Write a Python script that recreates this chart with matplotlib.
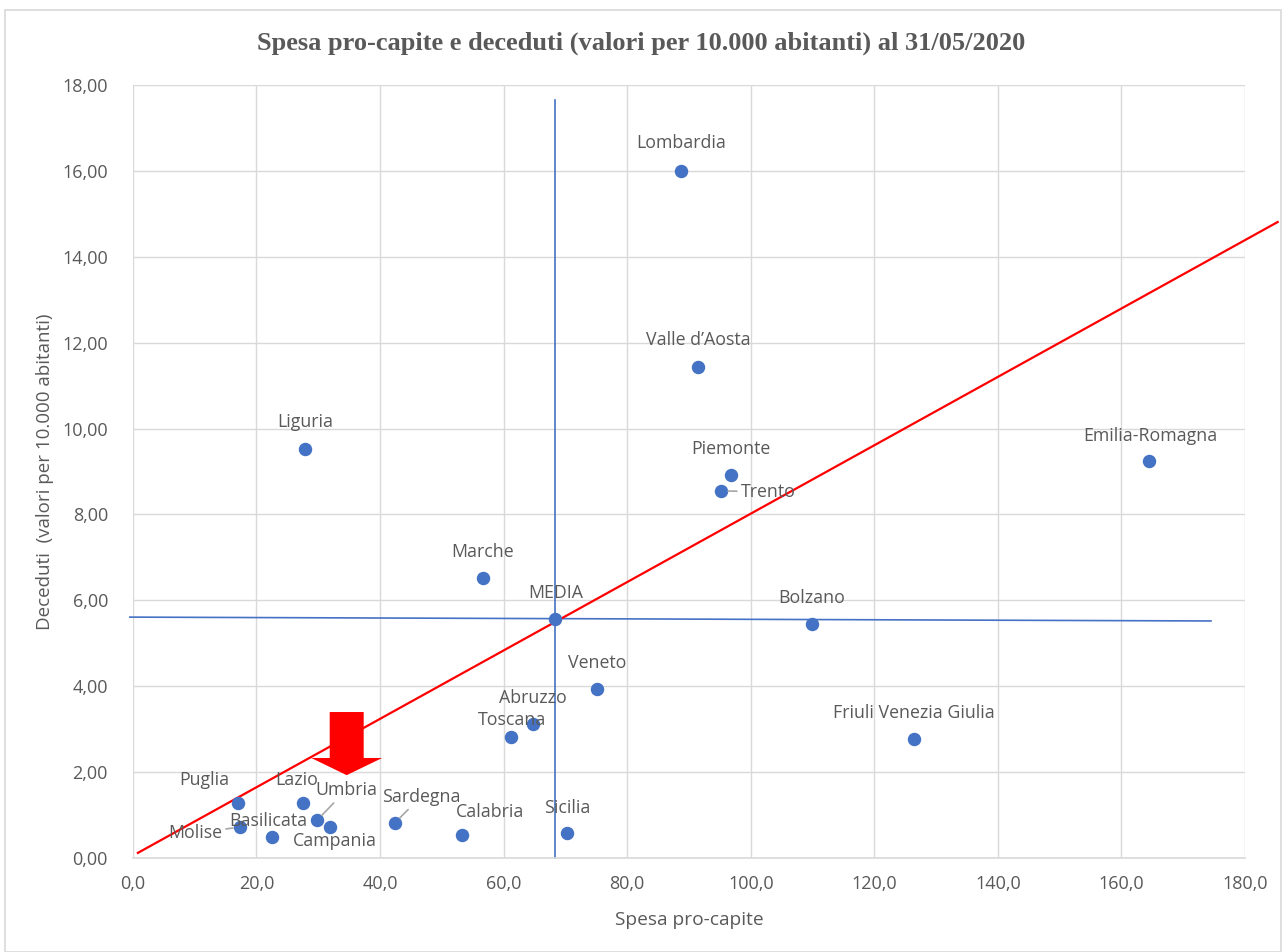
import matplotlib
matplotlib.use("Agg")
import matplotlib.pyplot as plt
from matplotlib.patches import Rectangle

# ---- data ----
regions = ["Lombardia", "Valle d\u2019Aosta", "Liguria", "Piemonte", "Trento",
           "Emilia-Romagna", "Marche", "MEDIA", "Bolzano", "Veneto", "Abruzzo",
           "Toscana", "Friuli Venezia Giulia", "Puglia", "Lazio", "Umbria",
           "Basilicata", "Molise", "Campania", "Sardegna", "Calabria", "Sicilia"]
spesa = [88.7, 91.5, 27.8, 96.8, 95.2, 164.5, 56.7, 68.3, 109.9, 75.1, 64.7,
         61.2, 126.4, 17.0, 27.5, 29.8, 22.5, 17.3, 31.9, 42.4, 53.3, 70.2]
deceduti = [16.0, 11.43, 9.52, 8.92, 8.55, 9.25, 6.52, 5.57, 5.45, 3.94, 3.12,
            2.82, 2.77, 1.28, 1.28, 0.88, 0.49, 0.72, 0.72, 0.82, 0.54, 0.58]

media_v_x = [68.3, 68.3]
media_v_y = [0.0, 17.65]
media_h_x = [-0.5, 174.5]
media_h_y = [5.61, 5.52]
trend_x = [0.8, 185.3]
trend_y = [0.12, 14.81]
arrow_x = 34.6
arrow_top = 3.40
arrow_tip = 1.93

x_ticks = [0, 20, 40, 60, 80, 100, 120, 140, 160, 180]
y_ticks = [0, 2, 4, 6, 8, 10, 12, 14, 16, 18]

# label placement (offset in pixels, ha, leader)
label_pos = {
    "Lombardia": (0, 28, "center", False),
    "Valle d\u2019Aosta": (0, 27, "center", False),
    "Liguria": (1, 27, "center", False),
    "Piemonte": (0, 26, "center", False),
    "Trento": (20, -1, "left", True),
    "Emilia-Romagna": (1, 25, "center", False),
    "Marche": (-1, 26, "center", False),
    "MEDIA": (1, 26, "center", False),
    "Bolzano": (0, 26, "center", False),
    "Veneto": (0, 26, "center", False),
    "Abruzzo": (0, 26, "center", False),
    "Toscana": (1, 17, "center", False),
    "Friuli Venezia Giulia": (0, 26, "center", False),
    "Puglia": (-34, 23, "center", False),
    "Lazio": (-6, 23, "center", False),
    "Umbria": (29, 30, "center", True),
    "Basilicata": (-4, 16, "center", False),
    "Molise": (-18, -6, "right", True),
    "Campania": (5, -14, "center", False),
    "Sardegna": (26, 26, "center", True),
    "Calabria": (28, 23, "center", False),
    "Sicilia": (1, 25, "center", False),
}

TXT = "#595959"
FONT = ["Open Sans", "DejaVu Sans"]
plt.rcParams["font.family"] = FONT

fig = plt.figure(figsize=(12.82, 9.52), dpi=100)
fig.patches.append(Rectangle((0.004, 0.0), 0.995, 0.99, transform=fig.transFigure,
                             fill=False, edgecolor="#D9D9D9", lw=1.2))
ax = fig.add_axes([0.1037, 0.0987, 0.8674, 0.812])

ax.set_xlim(0, 180)
ax.set_ylim(0, 18)
ax.set_xticks(x_ticks)
ax.set_yticks(y_ticks)
ax.set_xticklabels([f"{v:.1f}".replace(".", ",") for v in x_ticks])
ax.set_yticklabels([f"{v:.2f}".replace(".", ",") for v in y_ticks])
ax.grid(True, color="#D9D9D9", lw=1)
ax.set_axisbelow(True)
for s in ["top", "right", "left"]:
    ax.spines[s].set_visible(False)
ax.spines["bottom"].set_color("#D9D9D9")
ax.spines["bottom"].set_linewidth(1.2)
ax.tick_params(length=0, labelsize=13, labelcolor=TXT)
ax.tick_params(axis="y", pad=18)
ax.tick_params(axis="x", pad=12)

ax.plot(media_v_x, media_v_y, color="#4472C4", lw=1.2, zorder=2, clip_on=False)
ax.plot(media_h_x, media_h_y, color="#4472C4", lw=1.2, zorder=2, clip_on=False)
ax.plot(trend_x, trend_y, color="#FF0000", lw=1.6, zorder=3, clip_on=False)

ax.scatter(spesa, deceduti, s=75, color="#4472C4", zorder=4, clip_on=False)

for name, xv, yv in zip(regions, spesa, deceduti):
    dx, dy, ha, leader = label_pos[name]
    kw = {}
    if leader:
        kw["arrowprops"] = dict(arrowstyle="-", color="#A6A6A6", lw=1.2,
                                shrinkA=1, shrinkB=5)
    ax.annotate(name, (xv, yv), xytext=(dx, dy), textcoords="offset pixels",
                ha=ha, va="center", fontsize=12.8, color=TXT, zorder=5, **kw)

ax.arrow(arrow_x, arrow_top, 0, arrow_tip - arrow_top, width=5.5, head_width=11.5,
         head_length=0.40, length_includes_head=True, color="#FF0000",
         lw=0, zorder=6)

ax.set_xlabel("Spesa pro-capite", fontsize=13.8, color=TXT, labelpad=13)
ax.set_ylabel("Deceduti  (valori per 10.000 abitanti)", fontsize=13.5, color=TXT,
              labelpad=6)
fig.text(0.5, 0.955, "Spesa pro-capite e deceduti (valori per 10.000 abitanti) al 31/05/2020",
         ha="center", va="center", fontsize=19, fontweight="bold", color=TXT,
         family=["Liberation Serif", "DejaVu Serif"])

fig.savefig("out.png", dpi=100)
